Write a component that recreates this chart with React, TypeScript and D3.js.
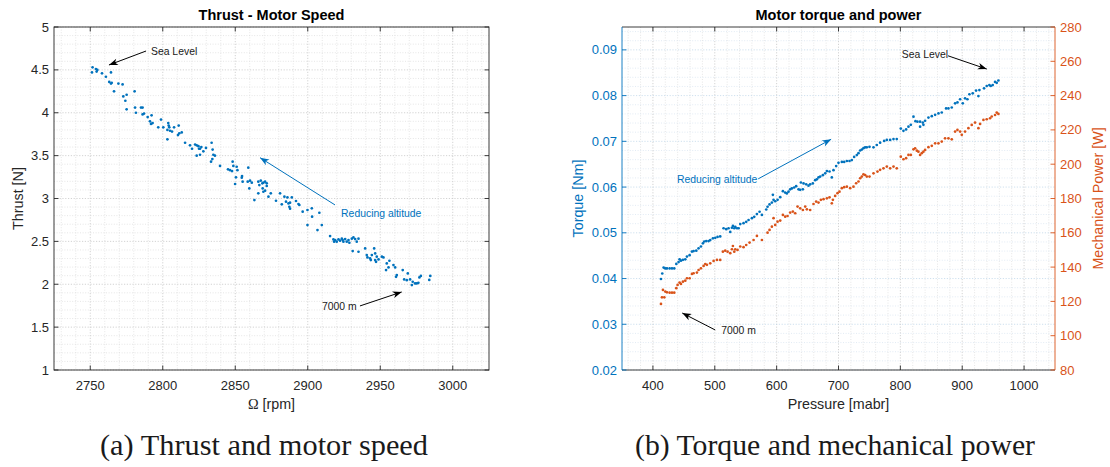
import React from 'react';
import * as d3 from 'd3';

// ---------- Data: (a) Thrust vs motor speed ----------
const speedRpm = [
  2751.6, 2751.2, 2753.9, 2754.9, 2754.4, 2758.1, 2760.8, 2764.3, 2763.1, 2764.3, 2764.8, 2766.4, 2769.4, 2772.3,
  2772.8, 2774.2, 2775.1, 2775.1, 2780.6, 2780.9, 2785.0, 2786.1, 2781.5, 2786.1, 2787.1, 2789.6, 2791.2, 2791.9,
  2792.3, 2793.0, 2796.9, 2798.8, 2800.4, 2803.8, 2804.1, 2804.5, 2803.2, 2805.0, 2806.4, 2807.8, 2811.0, 2811.4,
  2813.1, 2810.5, 2803.2, 2815.4, 2818.8, 2820.2, 2822.3, 2823.4, 2824.6, 2825.0, 2825.7, 2826.6, 2828.0, 2829.8,
  2823.4, 2825.7, 2833.7, 2834.4, 2834.9, 2836.0, 2834.2, 2833.3, 2839.5, 2845.0, 2848.2, 2848.7, 2846.4, 2847.8,
  2851.0, 2851.5, 2859.0,
  2850.5, 2849.9, 2854.7, 2855.1, 2854.5, 2858.6, 2860.2, 2861.4, 2859.7, 2865.9, 2866.6, 2867.6, 2868.7, 2869.4,
  2870.6, 2871.7, 2868.9, 2869.4, 2865.9, 2871.7, 2870.6, 2863.2, 2874.5, 2872.9, 2878.1, 2880.9, 2882.1, 2883.9,
  2886.0, 2885.0, 2886.7, 2887.8, 2889.0, 2887.3, 2887.8, 2891.9, 2893.6, 2894.2, 2896.5, 2899.8, 2902.8, 2903.0,
  2908.0, 2899.8, 2906.7, 2909.7, 2915.4, 2917.7, 2918.2, 2918.9, 2920.0, 2921.2, 2922.3, 2923.5, 2924.1, 2924.6,
  2925.8, 2926.9, 2928.1, 2928.7, 2930.4, 2931.5, 2932.7, 2935.0, 2933.8, 2931.0, 2935.0, 2939.6, 2940.7, 2941.2,
  2943.0, 2944.2, 2945.8, 2946.5, 2947.6, 2946.5, 2951.1, 2948.8, 2943.5, 2947.1, 2952.2, 2954.5, 2956.3, 2955.7,
  2954.0, 2959.1, 2960.3, 2961.4, 2960.9, 2965.5, 2966.5, 2968.3, 2969.0, 2970.6, 2971.8, 2972.4, 2974.0, 2975.2,
  2976.3, 2977.0, 2978.0, 2984.5, 2983.8,
];
const thrustN = [
  4.53, 4.47, 4.51, 4.50, 4.48, 4.46, 4.42, 4.47, 4.36, 4.34, 4.35, 4.25, 4.34, 4.33,
  4.19, 4.14, 4.21, 4.04, 4.25, 4.06, 4.06, 4.06, 4.00, 3.98, 3.99, 3.95, 3.90, 3.87,
  3.97, 3.88, 3.83, 3.92, 3.83, 3.88, 3.85, 3.83, 3.80, 3.79, 3.78, 3.83, 3.85, 3.76,
  3.77, 3.74, 3.69, 3.65, 3.62, 3.58, 3.63, 3.62, 3.61, 3.58, 3.58, 3.60, 3.55, 3.59,
  3.50, 3.51, 3.65, 3.57, 3.51, 3.50, 3.46, 3.43, 3.38, 3.34, 3.43, 3.38, 3.33, 3.32,
  3.37, 3.33, 3.36,
  3.247, 3.169, 3.262, 3.196, 3.243, 3.196, 3.208, 3.184, 3.118, 3.196, 3.157, 3.208, 3.177, 3.184,
  3.196, 3.177, 3.118, 3.079, 3.060, 3.146, 3.091, 2.982, 3.060, 3.021, 2.974, 3.060, 2.932, 3.021,
  3.013, 2.963, 2.943, 2.951, 3.013, 2.904, 2.881, 2.971, 2.936, 2.924, 2.846, 2.866, 2.885, 2.788,
  2.834, 2.690, 2.632, 2.690, 2.562, 2.523, 2.496, 2.515, 2.496, 2.523, 2.508, 2.531, 2.515, 2.496,
  2.527, 2.496, 2.515, 2.484, 2.531, 2.546, 2.527, 2.531, 2.496, 2.387, 2.379, 2.418, 2.340, 2.313,
  2.301, 2.340, 2.418, 2.360, 2.321, 2.282, 2.321, 2.290, 2.282, 2.262, 2.313, 2.243, 2.274, 2.196,
  2.165, 2.224, 2.196, 2.107, 2.087, 2.165, 2.056, 2.048, 2.126, 2.056, 1.990, 2.029, 2.010, 2.010,
  2.017, 2.080, 2.097, 2.097, 2.050,
];

// ---------- Data: (b) Torque and mechanical power vs pressure ----------
const pressureTorque = [
  413.0, 415.1, 417.3, 420.0, 422.7, 427.0, 430.8, 434.5, 437.8, 441.5, 443.1, 445.3, 448.5, 452.3, 455.0, 459.3,
  463.1, 465.8, 470.1, 473.8, 477.6, 480.8, 483.0, 486.2, 490.0, 492.7, 497.0, 500.8, 504.5, 508.8, 514.2, 518.5,
  522.3, 525.0, 527.7, 529.3, 531.5, 533.1, 535.8, 538.5, 541.2, 546.5, 550.8, 554.6, 560.0, 563.8, 568.1, 572.4,
  576.2, 583.2, 585.3, 588.5, 592.3, 595.0, 593.9, 597.7, 601.5, 605.8, 610.1, 613.8, 616.5, 619.2, 621.9, 624.6,
  628.4, 631.6, 635.4, 638.1, 642.4, 639.2, 643.5, 647.8, 651.5, 654.2, 658.5, 662.3, 665.0, 667.7, 670.4, 674.7,
  678.5, 681.2, 685.5, 689.2, 691.9, 696.2, 700.0, 705.4, 709.2, 713.5, 717.8, 721.5, 725.3, 729.6, 732.3, 735.0,
  737.7, 740.4, 743.1, 745.8, 750.1, 756.6, 761.9, 767.3, 773.8, 778.1, 783.5, 788.9, 794.2, 800.7, 805.0, 809.3,
  813.1, 816.9, 821.2, 824.4, 827.6, 831.9, 836.3, 840.0, 831.9, 837.3, 845.4, 850.8, 856.2, 861.6, 866.9, 873.9,
  877.7, 883.1, 888.5, 892.3, 896.6, 900.9, 904.6, 908.4, 911.6, 917.0, 922.4, 926.2, 927.8, 935.3, 939.6, 943.9,
  946.1, 949.3, 953.1, 955.8, 958.5,
];
const torqueNm = [
  0.0399, 0.0411, 0.0424, 0.0422, 0.0422, 0.0422, 0.0422, 0.0422, 0.0432, 0.0436, 0.0442, 0.0439, 0.0441, 0.0442, 0.0448, 0.0451,
  0.0459, 0.0460, 0.0461, 0.0466, 0.0470, 0.0477, 0.0481, 0.0482, 0.0482, 0.0484, 0.0488, 0.0489, 0.0491, 0.0492, 0.0510, 0.0508,
  0.0510, 0.0502, 0.0511, 0.0515, 0.0510, 0.0513, 0.0510, 0.0510, 0.0519, 0.0521, 0.0524, 0.0528, 0.0532, 0.0535, 0.0541, 0.0546,
  0.0539, 0.0551, 0.0557, 0.0562, 0.0566, 0.0572, 0.0583, 0.0569, 0.0572, 0.0578, 0.0591, 0.0588, 0.0586, 0.0590, 0.0595, 0.0597,
  0.0599, 0.0602, 0.0595, 0.0594, 0.0595, 0.0610, 0.0608, 0.0606, 0.0603, 0.0606, 0.0608, 0.0615, 0.0617, 0.0621, 0.0623, 0.0626,
  0.0630, 0.0635, 0.0634, 0.0621, 0.0637, 0.0646, 0.0653, 0.0655, 0.0655, 0.0657, 0.0657, 0.0659, 0.0666, 0.0670, 0.0674, 0.0680,
  0.0682, 0.0685, 0.0687, 0.0687, 0.0688, 0.0687, 0.0692, 0.0697, 0.0701, 0.0703, 0.0703, 0.0705, 0.0705, 0.0728, 0.0723, 0.0726,
  0.0732, 0.0736, 0.0754, 0.0744, 0.0743, 0.0743, 0.0741, 0.0745, 0.0732, 0.0736, 0.0752, 0.0755, 0.0758, 0.0761, 0.0763, 0.0772,
  0.0772, 0.0774, 0.0783, 0.0785, 0.0792, 0.0783, 0.0794, 0.0792, 0.0803, 0.0805, 0.0811, 0.0799, 0.0812, 0.0816, 0.0821, 0.0823,
  0.0821, 0.0823, 0.0830, 0.0828, 0.0833,
];
const pressurePower = [
  413.0, 414.6, 418.4, 416.2, 420.0, 422.7, 427.0, 430.8, 434.5, 437.8, 439.9, 443.1, 445.3, 448.5, 452.3, 455.0,
  459.3, 463.1, 465.8, 471.1, 473.8, 477.6, 481.9, 484.6, 487.3, 492.7, 498.1, 503.5, 508.8, 513.1, 516.9, 520.7,
  525.0, 527.7, 529.3, 531.5, 533.1, 536.8, 541.2, 546.5, 550.8, 556.2, 562.7, 568.1, 576.2, 585.3, 588.5, 592.3,
  595.0, 597.7, 601.5, 605.8, 610.1, 613.8, 617.6, 621.9, 626.2, 630.0, 633.8, 638.1, 642.4, 646.2, 648.9, 654.2,
  659.6, 663.9, 667.7, 671.5, 675.8, 681.2, 685.5, 689.2, 690.9, 694.6, 698.4, 701.6, 705.4, 709.2, 713.5, 718.9,
  724.2, 728.5, 732.3, 735.0, 737.7, 740.4, 743.1, 745.8, 750.1, 756.6, 763.0, 767.3, 772.7, 778.1, 783.5, 788.9,
  794.2, 800.7, 805.0, 809.3, 813.1, 816.9, 821.2, 823.9, 826.6, 829.2, 831.9, 834.6, 837.3, 840.0, 845.4, 850.8,
  856.2, 861.6, 866.9, 872.3, 877.7, 883.1, 888.5, 892.3, 896.6, 899.3, 904.6, 910.0, 915.4, 920.8, 926.2, 928.9,
  934.3, 939.6, 945.0, 947.7, 953.1, 955.8, 958.5,
];
const powerW = [
  118.5, 122.4, 122.4, 126.7, 125.7, 125.3, 125.1, 125.1, 125.1, 127.7, 129.6, 131.0, 130.2, 131.5, 132.1, 133.5,
  133.5, 136.0, 136.4, 136.8, 138.3, 139.3, 140.7, 141.8, 141.3, 142.2, 143.6, 144.2, 144.2, 149.0, 149.6, 149.0,
  148.1, 150.4, 152.3, 149.0, 150.4, 150.0, 152.0, 151.6, 152.9, 154.3, 155.8, 158.2, 155.8, 160.1, 161.7, 163.6,
  168.5, 164.6, 166.5, 167.1, 170.4, 169.4, 169.8, 171.8, 172.4, 171.4, 175.3, 174.3, 173.3, 175.3, 173.7, 173.3,
  176.8, 178.2, 177.6, 179.2, 179.6, 180.1, 180.7, 177.2, 179.2, 181.5, 183.1, 184.0, 186.0, 186.6, 186.9, 186.0,
  186.9, 188.9, 189.9, 191.8, 192.8, 194.1, 193.7, 192.8, 192.8, 194.7, 195.7, 196.7, 197.6, 198.6, 197.6, 198.6,
  197.6, 204.4, 202.9, 203.5, 205.4, 205.4, 208.7, 209.3, 207.9, 207.3, 205.4, 206.4, 207.3, 208.3, 209.9, 210.7,
  212.2, 212.2, 213.2, 215.1, 215.1, 214.5, 219.0, 220.0, 219.0, 217.1, 219.0, 221.0, 222.9, 224.3, 221.0, 223.5,
  225.8, 226.2, 226.8, 227.8, 228.7, 230.1, 229.3,
];

// ---------- Axis ticks ----------
const speedTicks = [2750, 2800, 2850, 2900, 2950, 3000];
const thrustTicks = [1, 1.5, 2, 2.5, 3, 3.5, 4, 4.5, 5];
const pressureTicks = [400, 500, 600, 700, 800, 900, 1000];
const torqueTicks = [0.02, 0.03, 0.04, 0.05, 0.06, 0.07, 0.08, 0.09];
const powerTicks = [80, 100, 120, 140, 160, 180, 200, 220, 240, 260, 280];

// ---------- Annotations (data coordinates) ----------
const annotA = [
  { text: 'Sea Level', tx: 2791.9, ty: 4.71, ax: 2788.5, ay: 4.72, hx: 2762.9, hy: 4.557, color: '#000' },
  { text: 'Reducing altitude', tx: 2923, ty: 2.82, ax: 2918.8, ay: 2.925, hx: 2867.1, hy: 3.476, color: '#0072BD' },
  { text: '7000 m', tx: 2909.8, ty: 1.735, ax: 2936.0, ay: 1.747, hx: 2964.8, hy: 1.91, color: '#000' },
];
const annotB = [
  { text: 'Reducing altitude', tx: 438.9, ty: 0.0615, ax: 570.2, ay: 0.0618, hx: 688.1, hy: 0.07045, color: '#0072BD' },
  { text: 'Sea Level', tx: 802.3, ty: 0.0889, ax: 877.1, ay: 0.0887, hx: 939.7, hy: 0.0858, color: '#000' },
  { text: '7000 m', tx: 510.4, ty: 0.0285, ax: 500.7, ay: 0.02875, hx: 447.4, hy: 0.03246, color: '#000' },
];

const FONT = "'Liberation Sans', Arial, Helvetica, sans-serif";
const SERIF = "'Liberation Serif', 'Times New Roman', serif";
const AXC = '#262626';
const BLUE = '#0072BD';
const ORANGE = '#D95319';

function arrowHead(x1: number, y1: number, x2: number, y2: number, color: string) {
  const ang = Math.atan2(y2 - y1, x2 - x1);
  const len = 9, w = 3.4;
  const pts = [
    [0, 0], [-len, -w], [-len * 0.72, 0], [-len, w],
  ].map(([px, py]) => [x2 + px * Math.cos(ang) - py * Math.sin(ang), y2 + px * Math.sin(ang) + py * Math.cos(ang)]);
  return <path d={`M${pts.map(p => p.join(',')).join('L')}Z`} fill={color} stroke="none" />;
}

function Annot({ a, xs, ys }: any) {
  const x1 = xs(a.ax), y1 = ys(a.ay), x2 = xs(a.hx), y2 = ys(a.hy);
  return (
    <g>
      <line x1={x1} y1={y1} x2={x2} y2={y2} stroke={a.color} strokeWidth={1} />
      {arrowHead(x1, y1, x2, y2, a.color)}
      <text x={xs(a.tx)} y={ys(a.ty)} fontSize={10.4} fill={a.color === '#000' ? '#1a1a1a' : a.color}
        fontFamily={FONT} dominantBaseline="middle">{a.text}</text>
    </g>
  );
}

function range(a: number, b: number, step: number) {
  const out: number[] = [];
  const n = Math.round((b - a) / step);
  for (let i = 0; i <= n; i++) out.push(+(a + i * step).toFixed(6));
  return out;
}

function ChartA() {
  const x0 = 54, x1 = 489, y0 = 27, y1 = 370;
  const xs = d3.scaleLinear().domain([2725, 3025]).range([x0, x1]);
  const ys = d3.scaleLinear().domain([1, 5]).range([y1, y0]);
  const minorX = range(2730, 3020, 10).filter(v => v % 50 !== 0);
  const minorY = range(1.1, 4.9, 0.1).filter(v => Math.abs(v * 2 - Math.round(v * 2)) > 1e-6);
  const tick = 4.5;
  return (
    <g>
      {minorX.map(v => <line key={'mx' + v} x1={xs(v)} x2={xs(v)} y1={y0} y2={y1} stroke="#e0e0e0" strokeWidth={0.8} strokeDasharray="1,1.6" />)}
      {minorY.map(v => <line key={'my' + v} y1={ys(v)} y2={ys(v)} x1={x0} x2={x1} stroke="#e0e0e0" strokeWidth={0.8} strokeDasharray="1,1.6" />)}
      {speedTicks.map(v => <line key={'gx' + v} x1={xs(v)} x2={xs(v)} y1={y0} y2={y1} stroke="#c8c8c8" strokeWidth={0.8} strokeDasharray="1.2,1.6" />)}
      {thrustTicks.map(v => <line key={'gy' + v} y1={ys(v)} y2={ys(v)} x1={x0} x2={x1} stroke="#c8c8c8" strokeWidth={0.8} strokeDasharray="1.2,1.6" />)}
      {speedRpm.map((v, i) => <circle key={'p' + i} cx={xs(v)} cy={ys(thrustN[i])} r={1.35} fill={BLUE} />)}
      <rect x={x0} y={y0} width={x1 - x0} height={y1 - y0} fill="none" stroke={AXC} strokeWidth={0.9} />
      {speedTicks.map(v => (
        <g key={'tx' + v}>
          <line x1={xs(v)} x2={xs(v)} y1={y1} y2={y1 - tick} stroke={AXC} strokeWidth={0.9} />
          <line x1={xs(v)} x2={xs(v)} y1={y0} y2={y0 + tick} stroke={AXC} strokeWidth={0.9} />
          <text x={xs(v)} y={389.5} textAnchor="middle" fontSize={13} fill={AXC} fontFamily={FONT}>{v}</text>
        </g>
      ))}
      {thrustTicks.map(v => (
        <g key={'ty' + v}>
          <line x1={x0} x2={x0 + tick} y1={ys(v)} y2={ys(v)} stroke={AXC} strokeWidth={0.9} />
          <line x1={x1} x2={x1 - tick} y1={ys(v)} y2={ys(v)} stroke={AXC} strokeWidth={0.9} />
          <text x={x0 - 5} y={ys(v)} dy="0.35em" textAnchor="end" fontSize={13} fill={AXC} fontFamily={FONT}>{v}</text>
        </g>
      ))}
      <text x={(x0 + x1) / 2} y={20} textAnchor="middle" fontSize={14.5} fontWeight="bold" fill="#000" fontFamily={FONT}>Thrust - Motor Speed</text>
      <text x={(x0 + x1) / 2} y={409} textAnchor="middle" fontSize={14.3} fill={AXC} fontFamily={FONT}>
        <tspan fontFamily={SERIF}>Ω</tspan> [rpm]</text>
      <text transform={`translate(23,${(y0 + y1) / 2}) rotate(-90)`} textAnchor="middle" fontSize={14.3} fill={AXC} fontFamily={FONT}>Thrust [N]</text>
      {annotA.map((a, i) => <Annot key={i} a={a} xs={xs} ys={ys} />)}
    </g>
  );
}

function ChartB() {
  const x0 = 622, x1 = 1055, y0 = 27, y1 = 370;
  const xs = d3.scaleLinear().domain([350, 1050]).range([x0, x1]);
  const ys = d3.scaleLinear().domain([0.02, 0.095]).range([y1, y0]);
  const yp = d3.scaleLinear().domain([80, 280]).range([y1, y0]);
  const minorX = range(360, 1040, 20).filter(v => v % 100 !== 0);
  const minorY = range(0.022, 0.094, 0.002).filter(v => Math.abs(v * 100 - Math.round(v * 100)) > 1e-6);
  const tick = 4.5;
  return (
    <g>
      {minorX.map(v => <line key={'mx' + v} x1={xs(v)} x2={xs(v)} y1={y0} y2={y1} stroke="#e0e0e0" strokeWidth={0.8} strokeDasharray="1,1.6" />)}
      {minorY.map(v => <line key={'my' + v} y1={ys(v)} y2={ys(v)} x1={x0} x2={x1} stroke="#dae6f1" strokeWidth={0.8} strokeDasharray="1,1.6" />)}
      {pressureTicks.map(v => <line key={'gx' + v} x1={xs(v)} x2={xs(v)} y1={y0} y2={y1} stroke="#c8c8c8" strokeWidth={0.8} strokeDasharray="1.2,1.6" />)}
      {torqueTicks.map(v => <line key={'gy' + v} y1={ys(v)} y2={ys(v)} x1={x0} x2={x1} stroke="#c2d8ea" strokeWidth={0.8} strokeDasharray="1.2,1.6" />)}
      {pressureTorque.map((v, i) => <circle key={'t' + i} cx={xs(v)} cy={ys(torqueNm[i])} r={1.35} fill={BLUE} />)}
      {pressurePower.map((v, i) => <circle key={'w' + i} cx={xs(v)} cy={yp(powerW[i])} r={1.35} fill={ORANGE} />)}
      <line x1={x0} x2={x1} y1={y0} y2={y0} stroke={AXC} strokeWidth={0.9} />
      <line x1={x0} x2={x1} y1={y1} y2={y1} stroke={AXC} strokeWidth={0.9} />
      <line x1={x0} x2={x0} y1={y0} y2={y1} stroke={BLUE} strokeWidth={0.9} />
      <line x1={x1} x2={x1} y1={y0} y2={y1} stroke={ORANGE} strokeWidth={0.9} />
      {pressureTicks.map(v => (
        <g key={'tx' + v}>
          <line x1={xs(v)} x2={xs(v)} y1={y1} y2={y1 - tick} stroke={AXC} strokeWidth={0.9} />
          <line x1={xs(v)} x2={xs(v)} y1={y0} y2={y0 + tick} stroke={AXC} strokeWidth={0.9} />
          <text x={xs(v)} y={389.5} textAnchor="middle" fontSize={13} fill={AXC} fontFamily={FONT}>{v}</text>
        </g>
      ))}
      {torqueTicks.map(v => (
        <g key={'ty' + v}>
          <line x1={x0} x2={x0 + tick} y1={ys(v)} y2={ys(v)} stroke={BLUE} strokeWidth={0.9} />
          <text x={x0 - 5} y={ys(v)} dy="0.35em" textAnchor="end" fontSize={13} fill={BLUE} fontFamily={FONT}>{v.toFixed(2)}</text>
        </g>
      ))}
      {powerTicks.map(v => (
        <g key={'tp' + v}>
          <line x1={x1} x2={x1 - tick} y1={yp(v)} y2={yp(v)} stroke={ORANGE} strokeWidth={0.9} />
          <text x={x1 + 5} y={yp(v)} dy="0.35em" textAnchor="start" fontSize={13} fill={ORANGE} fontFamily={FONT}>{v}</text>
        </g>
      ))}
      <text x={(x0 + x1) / 2} y={20} textAnchor="middle" fontSize={14.5} fontWeight="bold" fill="#000" fontFamily={FONT}>Motor torque and power</text>
      <text x={(x0 + x1) / 2} y={409} textAnchor="middle" fontSize={14.3} fill={AXC} fontFamily={FONT}>Pressure [mabr]</text>
      <text transform={`translate(583,${(y0 + y1) / 2}) rotate(-90)`} textAnchor="middle" fontSize={14.3} fill={BLUE} fontFamily={FONT}>Torque [Nm]</text>
      <text transform={`translate(1103,${(y0 + y1) / 2}) rotate(-90)`} textAnchor="middle" fontSize={14.3} fill={ORANGE} fontFamily={FONT}>Mechanical Power [W]</text>
      {annotB.map((a, i) => <Annot key={i} a={a} xs={xs} ys={ys} />)}
    </g>
  );
}

export default function App() {
  return (
    <div style={{ position: 'fixed', left: 0, top: 0, width: 1110, height: 467, background: '#fff' }}>
      <svg width={1110} height={467} viewBox="0 0 1110 467" style={{ display: 'block' }}>
        <rect width={1110} height={467} fill="#fff" />
        <ChartA />
        <ChartB />
        <text x={100} y={455} fontSize={29} fill="#1a1a1a" fontFamily={SERIF} textLength={328} lengthAdjust="spacingAndGlyphs">(a) Thrust and motor speed</text>
        <text x={635} y={455} fontSize={29} fill="#1a1a1a" fontFamily={SERIF} textLength={400} lengthAdjust="spacingAndGlyphs">(b) Torque and mechanical power</text>
      </svg>
    </div>
  );
}
